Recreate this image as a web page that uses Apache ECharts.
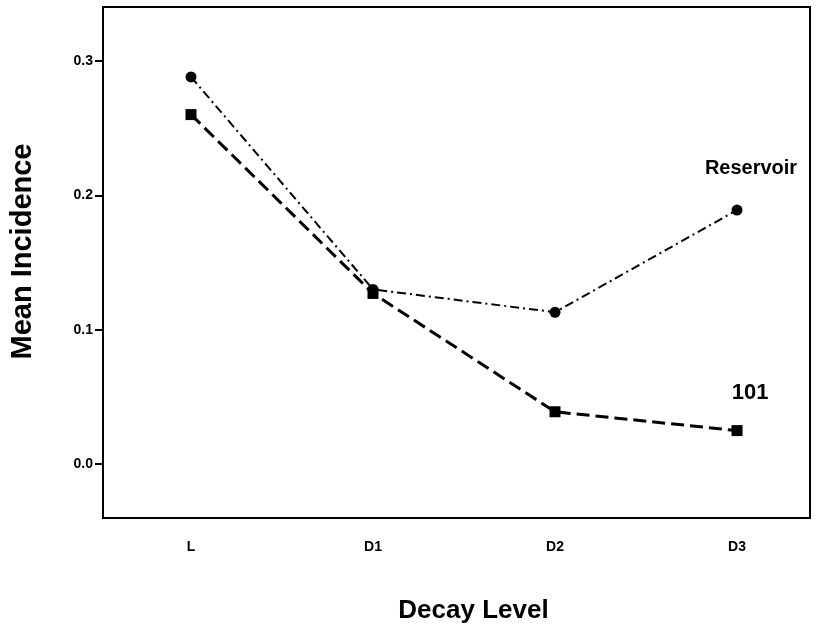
<!DOCTYPE html>
<html>
<head>
<meta charset="utf-8">
<script src="https://cdn.jsdelivr.net/npm/echarts@6/dist/echarts.min.js"></script>
<style>
  html, body { margin: 0; padding: 0; background: #fff; }
  #main { width: 828px; height: 637px; }
</style>
</head>
<body>
<div id="main"></div>
<script>
// decay levels on the x axis
var levels = ['L', 'D1', 'D2', 'D3'];
var yTicks = [0.0, 0.1, 0.2, 0.3];

// mean incidence values
var reservoir = [0.288, 0.130, 0.113, 0.189];
var site101 = [0.260, 0.127, 0.039, 0.025];

var font = 'Liberation Sans, Arial, sans-serif';

function toPoints(vals, lastLabel) {
    return vals.map(function (v, i) {
        var p = { value: [i, v] };
        if (i === vals.length - 1) p.label = lastLabel;
        return p;
    });
}

var option = {
    animation: false,
    backgroundColor: '#fff',
    grid: {
        left: 103, right: 18, top: 7, bottom: 119,
        show: true, borderColor: '#000', borderWidth: 2
    },
    xAxis: {
        type: 'value',
        min: -0.4835,
        max: 3.401,
        name: 'Decay Level',
        nameLocation: 'middle',
        nameGap: 80,
        nameTextStyle: {
            fontFamily: font, fontSize: 26, fontWeight: 'bold', color: '#000',
            padding: [0, 0, 0, 34]
        },
        axisLine: { show: true, onZero: false, lineStyle: { color: '#000', width: 2 } },
        axisTick: { show: false },
        splitLine: { show: false },
        axisLabel: {
            customValues: [0, 1, 2, 3],
            formatter: function (v) { return levels[Math.round(v)]; },
            margin: 22,
            fontFamily: font, fontSize: 14, fontWeight: 'bold', color: '#000'
        }
    },
    yAxis: {
        type: 'value',
        min: -0.04,
        max: 0.34,
        name: 'Mean Incidence',
        nameLocation: 'middle',
        nameGap: 66,
        nameTextStyle: {
            fontFamily: font, fontSize: 29, fontWeight: 'bold', color: '#000',
            padding: [0, 0, 0, 22]
        },
        axisLine: { show: true, onZero: false, lineStyle: { color: '#000', width: 2 } },
        axisTick: {
            show: true, length: 8, customValues: yTicks,
            lineStyle: { color: '#000', width: 2 }
        },
        splitLine: { show: false },
        axisLabel: {
            customValues: yTicks,
            formatter: function (v) { return v.toFixed(1); },
            margin: 10,
            fontFamily: font, fontSize: 14, fontWeight: 'bold', color: '#000'
        }
    },
    series: [
        {
            name: 'Reservoir',
            type: 'line',
            symbol: 'circle',
            symbolSize: 11,
            itemStyle: { color: '#000' },
            lineStyle: { color: '#000', width: 2, type: [9, 4, 2, 4] },
            data: toPoints(reservoir, {
                show: true, formatter: 'Reservoir', position: 'top', offset: [14, -21],
                fontFamily: font, fontSize: 20, fontWeight: 'bold', color: '#000'
            })
        },
        {
            name: '101',
            type: 'line',
            symbol: 'rect',
            symbolSize: 11,
            itemStyle: { color: '#000' },
            lineStyle: { color: '#000', width: 3, type: [13, 6] },
            data: toPoints(site101, {
                show: true, formatter: '101', position: 'top', offset: [13, -16],
                fontFamily: font, fontSize: 22, fontWeight: 'bold', color: '#000'
            })
        }
    ]
};

var myChart = echarts.init(document.getElementById('main'));
myChart.setOption(option);
</script>
</body>
</html>
